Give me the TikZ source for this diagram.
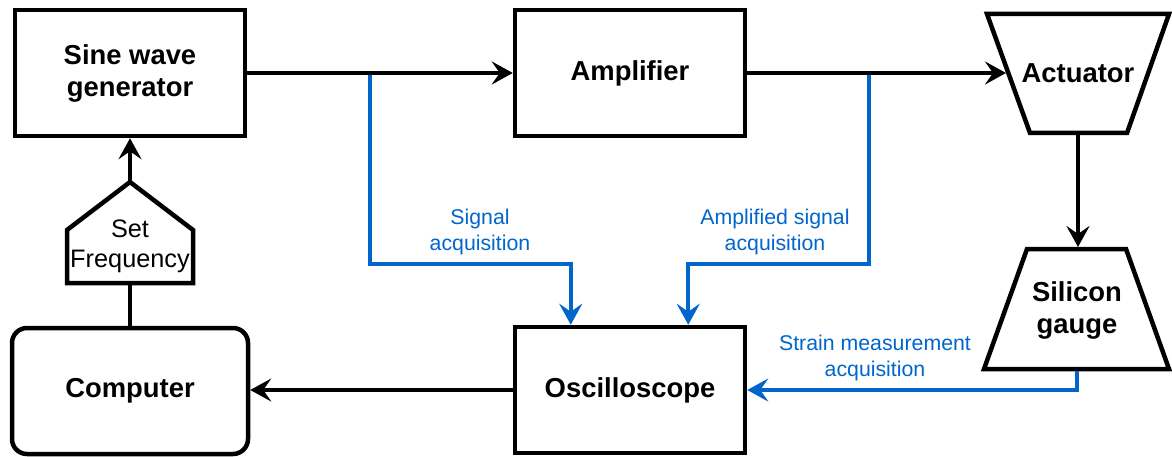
\documentclass[tikz,border=0pt]{standalone}
\usepackage{fontspec}
\setmainfont{Liberation Sans}
\usetikzlibrary{arrows.meta}
\definecolor{sigblue}{HTML}{0066CC}
\begin{document}
\begin{tikzpicture}[x=1pt,y=-1pt,
  blk/.style={draw,line width=4.5pt,minimum width=230pt,minimum height=126pt,inner sep=0pt,
    font=\bfseries\fontsize{27.4}{32}\selectfont,align=center},
  boldtxt/.style={font=\bfseries\fontsize{27.4}{32}\selectfont,align=center,inner sep=0pt},
  outline/.style={line width=4.5pt},
  flow/.style={line width=4.5pt,-{Stealth[length=21pt,width=23pt,inset=8pt]}},
  sig/.style={line width=4pt,draw=sigblue,-{Stealth[length=21pt,width=23pt,inset=8pt]}},
  siglabel/.style={text=sigblue,font=\fontsize{21.3}{26.5}\selectfont,align=center,inner sep=0pt}
]
\useasboundingbox (0,0) rectangle (1172,457);

\node[blk] (sine) at (130,73) {Sine wave\\generator};
\node[blk] (amp) at (630,73) {Amplifier};
\node[blk] (osc) at (630,390) {Oscilloscope};
\node[blk,minimum width=236pt,rounded corners=15pt] (comp) at (130,391) {Computer};

% Actuator (inverted trapezoid)
\draw[outline] (987,14) -- (1169,14) -- (1127,133) -- (1030,133) -- cycle;
\node[boldtxt] (act) at (1078,73) {Actuator};
\coordinate (actin) at (1006,73);
\coordinate (actout) at (1078,135);

% Silicon gauge (trapezoid)
\draw[outline] (1027,249) -- (1126,249) -- (1169,369) -- (984,369) -- cycle;
\node[boldtxt] (gauge) at (1077,310) {Silicon\\gauge};
\coordinate (gaugein) at (1078,247);
\coordinate (gaugeout) at (1077,371);

% Set Frequency pentagon
\draw[outline] (67,283) -- (67,230) -- (130,182) -- (193,230) -- (193,283) -- cycle;
\node[font=\fontsize{25.3}{30}\selectfont,align=center,inner sep=0pt] (setf) at (130,246) {Set\\Frequency};
\coordinate (ptip) at (130,182);
\coordinate (pbot) at (130,283);

% blue acquisition lines
\coordinate (b1) at (370,73);
\coordinate (b2) at (869,73);
\draw[sig] (b1) -- (370,264) -| ([xshift=58pt]osc.north west);
\draw[sig] (b2) -- (869,264) -| ([xshift=-59pt]osc.north east);
\draw[sig] (gaugeout) |- (osc.east);

\node[siglabel] (l1) at (480,232) {Signal\\acquisition};
\node[siglabel] (l2) at (775,232) {Amplified signal\\acquisition};
\node[siglabel] (l3) at (875,358) {Strain measurement\\acquisition};

% black flow
\draw[flow] (sine.east) -- (amp.west);
\draw[flow] (amp.east) -- (actin);
\draw[flow] (actout) -- (gaugein);
\draw[flow] (osc.west) -- (osc.west -| comp.east);
\draw[outline] (comp.north) -- (pbot);
\draw[flow] (ptip) -- (sine.south);
\end{tikzpicture}
\end{document}
